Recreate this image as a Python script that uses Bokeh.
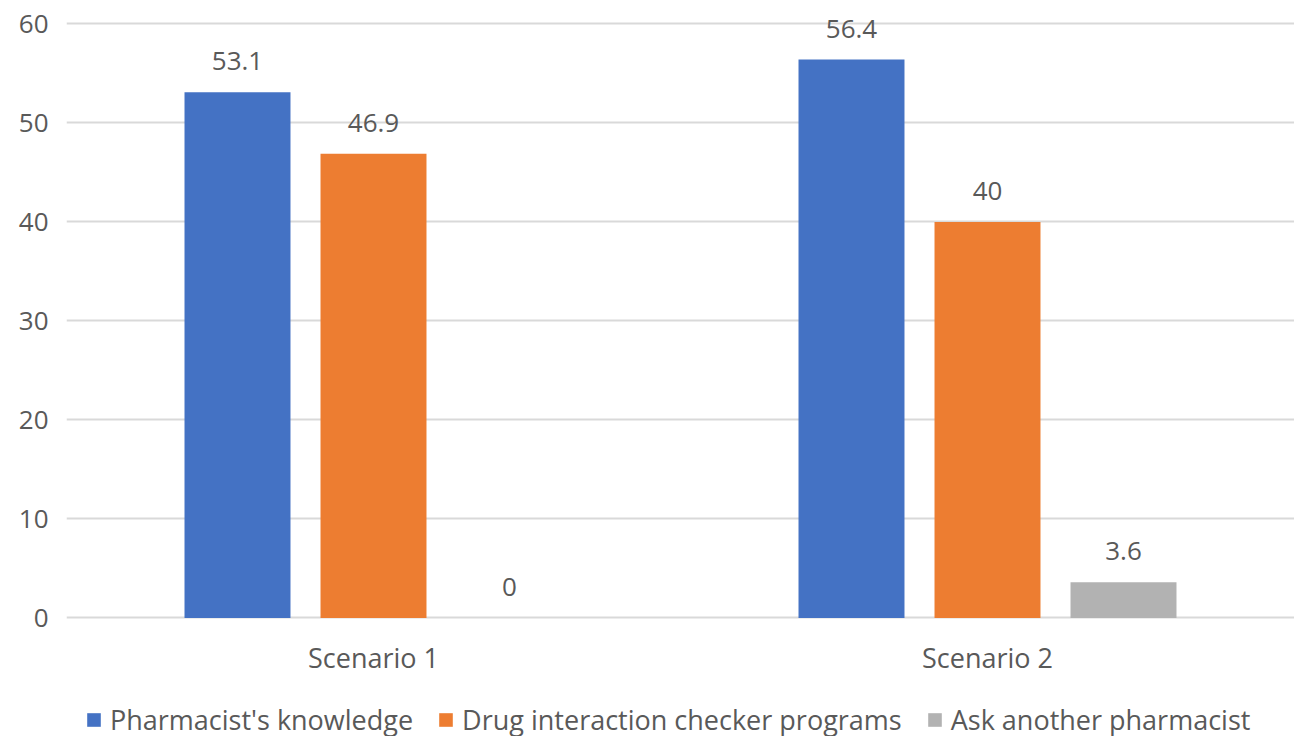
from bokeh.plotting import figure
from bokeh.models import ColumnDataSource, Range1d, FixedTicker, Legend, LegendItem
from bokeh.embed import file_html
from bokeh.resources import INLINE
from bokeh.core.properties import value

categories = ["Scenario 1", "Scenario 2"]
series_names = ["Pharmacist's knowledge", "Drug interaction checker programs", "Ask another pharmacist"]
knowledge = [53.1, 56.4]
checker = [46.9, 40.0]
ask_other = [0.0, 3.6]
y_ticks = [0, 10, 20, 30, 40, 50, 60]

series_values = [knowledge, checker, ask_other]
colors = ["#4472C4", "#ED7D31", "#B2B2B2"]
offsets = [-0.2215, 0.0, 0.2215]
bar_w = 0.1726

FONT = "Open Sans"
TXT = "#595959"
FS = "26px"
FS2 = "27px"

p = figure(frame_width=1228, frame_height=736, output_backend="svg", toolbar_location=None,
           x_range=Range1d(0, 2.0), y_range=Range1d(-11.97, 62.37),
           x_axis_location=None,
           min_border_left=66, min_border_right=0, min_border_top=0, min_border_bottom=0)
p.outline_line_color = None
p.background_fill_color = "white"
p.border_fill_color = "white"

centers = [i + 0.5 for i in range(len(categories))]

items = []
for name, vals, col, off in zip(series_names, series_values, colors, offsets):
    src = ColumnDataSource(dict(x=[c + off for c in centers], top=vals,
                                lab=[("%g" % v) for v in vals]))
    r = p.vbar(x="x", top="top", width=bar_w, bottom=0, source=src,
               fill_color=col, line_color=None)
    items.append(LegendItem(label=name, renderers=[r]))
    p.text(x="x", y="top", text="lab", source=src, text_align="center",
           text_baseline="alphabetic", y_offset=-31, text_font=value(FONT),
           text_font_size=FS, text_color=TXT)

# category labels under the zero line
cat_src = ColumnDataSource(dict(x=centers, y=[0] * len(centers), lab=categories))
p.text(x="x", y="y", text="lab", source=cat_src, text_align="center",
       text_baseline="middle", y_offset=40, text_font=value(FONT),
       text_font_size=FS2, text_color=TXT)

p.yaxis.ticker = FixedTicker(ticks=y_ticks)
ax = p.yaxis[0]
ax.axis_line_color = None
ax.major_tick_line_color = None
ax.minor_tick_line_color = None
ax.major_label_text_font = FONT
ax.major_label_text_font_size = FS
ax.major_label_text_color = TXT
ax.major_label_standoff = 12

p.xgrid.grid_line_color = None
p.ygrid.ticker = FixedTicker(ticks=y_ticks)
p.ygrid.grid_line_color = "#D9D9D9"
p.ygrid.grid_line_width = 2

legend = Legend(items=items, orientation="horizontal", location=(19, -2),
                glyph_width=17, glyph_height=17, label_standoff=8, spacing=24,
                padding=0, margin=0, border_line_color=None, background_fill_alpha=0,
                label_text_font=FONT, label_text_font_size=FS2, label_text_color=TXT)
p.add_layout(legend, "center")

open("out.html", "w").write(file_html(p, INLINE))
